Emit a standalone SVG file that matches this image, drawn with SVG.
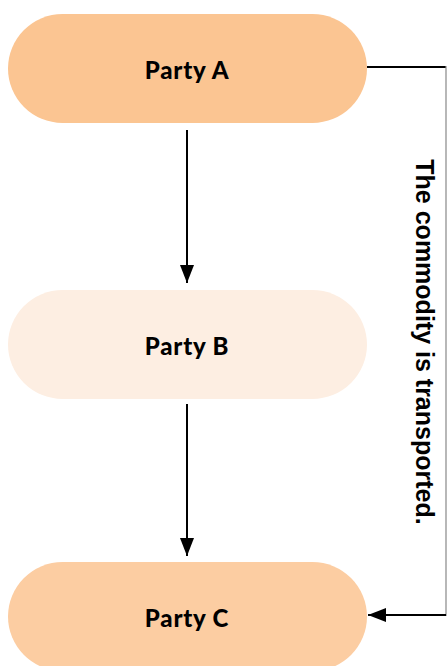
<svg xmlns="http://www.w3.org/2000/svg" width="447" height="666" viewBox="0 0 447 666">
<style>
.lbl{font-family:Lato,"Liberation Sans",sans-serif;font-weight:900;font-size:24px;letter-spacing:0.8px;fill:#000;text-anchor:middle;dominant-baseline:central}
.edge{stroke:#000;stroke-width:2;fill:none}
.side{font-family:"Liberation Sans",Arial,sans-serif;font-weight:bold;font-size:25px;fill:#000;text-anchor:middle;dominant-baseline:central}
</style>
<defs>
<marker id="ah" viewBox="0 0 18 14" refX="18" refY="7" markerWidth="18" markerHeight="14" markerUnits="userSpaceOnUse" orient="auto">
<path d="M0,0 L18,7 L0,14 Z" fill="#000"/>
</marker>
</defs>
<g id="nodeA"><rect x="8" y="14" width="359" height="109" rx="54.5" fill="#FBC592"/><text class="lbl" x="187" y="69">Party A</text></g>
<g id="nodeB"><rect x="8" y="290" width="359" height="109" rx="54.5" fill="#FDEEE2"/><text class="lbl" x="187" y="345">Party B</text></g>
<g id="nodeC"><rect x="8" y="562" width="359" height="109" rx="54.5" fill="#FCCDA2"/><text class="lbl" x="187" y="617">Party C</text></g>
<g id="connectors">
<line class="edge" x1="187" y1="130" x2="187" y2="283" marker-end="url(#ah)"/>
<line class="edge" x1="187" y1="404" x2="187" y2="556" marker-end="url(#ah)"/>
<line class="edge" x1="367" y1="67" x2="446" y2="67"/>
<line x1="446" y1="66" x2="446" y2="616" stroke="#888" stroke-width="1.2"/>
<line class="edge" x1="446" y1="615" x2="368" y2="615" marker-end="url(#ah)"/>
<text class="side" transform="translate(425,342) rotate(90)">The commodity is transported.</text>
</g>
</svg>
